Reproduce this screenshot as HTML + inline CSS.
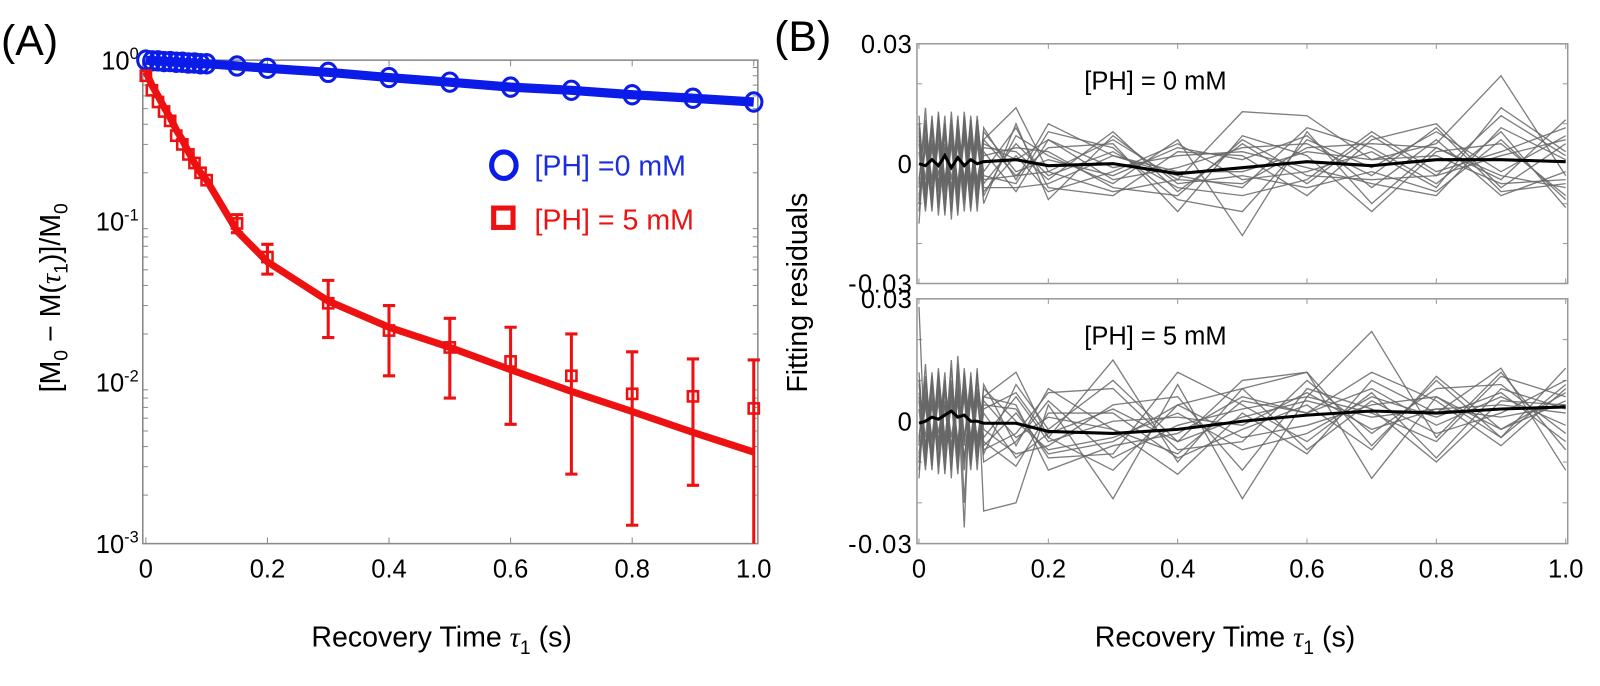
<!DOCTYPE html>
<html><head><meta charset="utf-8"><style>
html,body{margin:0;padding:0;background:#fff;}
svg{display:block;font-family:"Liberation Sans",sans-serif;}
</style></head><body>
<svg id="c" width="1600" height="686" xmlns="http://www.w3.org/2000/svg">
<g transform="translate(1,2) scale(1.02)">
<text x="0" y="52" font-size="42">(A)</text>
<text x="758" y="48" font-size="42">(B)</text>
<g id="ga"></g>
<g id="gb"></g>
</g>
</svg>
<script>
// ---------- Panel A data ----------
const tA = [0,0.01,0.02,0.03,0.04,0.05,0.06,0.07,0.08,0.09,0.1,0.15,0.2,0.3,0.4,0.5,0.6,0.7,0.8,0.9,1.0];
const blueVals = [1.0,0.99,0.99,0.98,0.98,0.97,0.97,0.96,0.96,0.95,0.95,0.92,0.89,0.84,0.78,0.73,0.68,0.65,0.61,0.58,0.55];
const blueFit = [1.0,0.99,0.99,0.98,0.98,0.97,0.97,0.96,0.96,0.95,0.95,0.92,0.89,0.84,0.78,0.73,0.68,0.65,0.61,0.58,0.55];
const redVals = [0.8,0.65,0.55,0.48,0.42,0.34,0.3,0.26,0.23,0.2,0.18,0.097,0.06,0.031,0.021,0.0165,0.0135,0.011,0.0085,0.0082,0.0069];
const redLo = [null,null,null,null,null,null,null,null,null,null,null,0.085,0.047,0.019,0.011,0.008,0.0055,0.0027,0.0013,0.0023,0.0009];
const redHi = [null,null,null,null,null,null,null,null,null,null,null,0.11,0.072,0.043,0.03,0.025,0.022,0.02,0.0155,0.014,0.0138];
const redFit = [0.85,0.7,0.6,0.51,0.44,0.37,0.32,0.27,0.23,0.2,0.18,0.087,0.056,0.032,0.022,0.0165,0.012,0.0088,0.0066,0.0049,0.0037];
const xTicksA = [0,0.2,0.4,0.6,0.8,1.0];
const xTickLabelsA = ["0","0.2","0.4","0.6","0.8","1.0"];
const yExpA = [0,-1,-2,-3];

// ---------- Panel B data (residuals in units of 0.001) ----------
const tB = [0,0.01,0.02,0.03,0.04,0.05,0.06,0.07,0.08,0.09,0.1,0.15,0.2,0.3,0.4,0.5,0.6,0.7,0.8,0.9,1.0];
const res0 = [
 [8,-10,12,-6,10,-9,11,-7,9,-5,6,14,-2,6,-4,13,12,1,5,22,-3],
 [-15,9,-8,13,-6,11,-12,12,-8,9,-3,-5,8,4,-9,-12,6,-1,8,-2,7],
 [10,-7,9,-11,8,-4,7,-9,12,-6,4,3,-4,8,-7,5,-5,7,-3,12,2],
 [-6,14,-10,7,-13,9,-5,10,-11,7,-8,7,2,-5,6,-18,8,-10,4,-4,11],
 [3,-12,6,-5,12,-14,9,-4,7,-12,9,-4,10,2,-3,-6,9,4,-5,8,-11],
 [-10,6,-12,9,-7,8,-10,13,-5,10,-2,9,-6,-8,3,2,-8,6,10,-6,5],
 [7,-4,11,-13,5,-9,12,-6,10,-8,6,-3,4,5,-12,7,2,-12,3,5,-8],
 [-4,10,-5,8,-9,13,-7,6,-12,5,-7,2,-7,-2,5,-4,-2,3,-6,14,3],
 [12,-9,4,-7,10,-6,5,-12,8,-10,3,-7,6,-4,-1,4,5,-3,9,-7,-5],
 [-8,5,-9,11,-4,7,-9,8,-6,12,-5,5,-3,3,-6,-8,-4,8,-2,3,9],
 [5,-11,8,-3,7,-12,6,-9,5,-7,8,-2,1,-3,4,1,7,-6,6,-8,-2],
 [-12,7,-4,10,-10,5,-13,9,-9,8,-10,10,-9,7,-5,-3,-6,-2,-7,6,-9],
 [6,-8,10,-9,4,-11,8,-5,11,-9,2,4,3,-6,-8,6,-3,-4,-3,2,6],
 [-5,11,-7,5,-12,6,-8,11,-4,6,-6,-6,-5,2,-2,-2,3,1,2,-5,-4],
 [9,-6,5,-10,9,-8,10,-10,6,-4,5,1,6,-1,2,3,-1,-5,-8,9,1],
 [-9,4,-11,12,-5,10,-6,7,-10,11,-4,-3,-2,-7,-4,-5,4,5,4,-3,-6]
];
const mean0 = [0,-0.5,1,-0.5,2,-1,1.5,-0.5,1,0,0.5,1,-0.5,0,-2.5,-1,0.5,-0.5,1,1,0.5];
const res1 = [
 [28,-10,12,-6,10,-9,14,-20,9,-5,6,12,-4,15,-10,8,12,-6,10,-4,9],
 [-14,9,-8,13,-6,15,-12,12,-8,13,-22,-20,4,-19,9,-19,6,22,-4,12,-7],
 [10,-7,9,-11,8,-4,7,-26,12,-6,4,3,-9,-8,12,4,-5,7,-9,8,3],
 [-6,14,-10,7,-13,9,-5,10,-11,7,-8,9,-2,10,-5,10,12,-14,6,-4,13],
 [3,-12,6,-5,12,-14,16,-4,7,-12,9,-6,8,-2,-13,2,-8,10,2,13,-12],
 [-10,6,-12,9,-7,8,-10,13,-5,10,-2,-8,-6,4,6,-12,8,3,-10,5,4],
 [7,-4,11,-13,5,-9,12,-6,10,-8,6,4,-12,-6,-3,6,2,12,5,-6,8],
 [-4,10,-5,8,-9,13,-7,6,-12,5,-7,-3,7,8,-7,-5,10,-3,8,9,-3],
 [12,-9,4,-7,10,-6,5,-12,8,-10,3,7,-4,-12,4,8,-7,5,-3,2,10],
 [-8,5,-9,11,-4,7,-9,8,-6,12,-5,-11,2,2,-9,-2,4,-7,11,-2,5],
 [5,-11,8,-3,7,-12,6,-9,5,-7,8,0,-7,-4,2,-7,-3,6,1,7,-5],
 [-12,7,-4,10,-10,5,-13,9,-9,8,-10,-5,5,-9,-1,3,6,2,-5,11,6],
 [6,-8,10,-9,4,-11,8,-5,11,-9,2,-9,-3,3,-5,1,5,1,3,4,2],
 [-5,11,-7,5,-12,6,-8,11,-4,6,-6,2,-8,-5,4,-4,-1,4,6,-2,7],
 [9,-6,5,-10,9,-8,10,-10,6,-4,5,-4,1,-2,-8,5,2,8,-1,6,-1],
 [-9,4,-11,12,-5,10,-6,7,-10,11,-4,6,-5,0,1,-1,7,-2,3,1,4]
];
const mean1 = [-0.5,0,1,0.5,1.5,2.5,1,1.5,0,0,-0.5,-0.5,-2.5,-3,-2,0,1.5,2.5,2,3,3.5];
const xTicksB = [0,0.2,0.4,0.6,0.8,1.0];
const xTickLabelsB = ["0","0.2","0.4","0.6","0.8","1.0"];

const NS = "http://www.w3.org/2000/svg";
function mk(parent, tag, attrs, text) {
  const e = document.createElementNS(NS, tag);
  for (const k in attrs) e.setAttribute(k, attrs[k]);
  if (text !== undefined) e.textContent = text;
  parent.appendChild(e);
  return e;
}

// ---------- Panel A ----------
const ga = document.getElementById('ga');
const A = {l:139, r:742, t:57, b:531, x0:142, x1:738};
const xA = v => A.x0 + v * (A.x1 - A.x0);
const yA = v => A.t + (-Math.log10(v)) * (A.b - A.t) / 3;
{
  const box = mk(ga, 'rect', {x:A.l, y:A.t, width:A.r-A.l, height:A.b-A.t, fill:'none', stroke:'#888', 'stroke-width':1.5});
  
  
  xTicksA.forEach((v, i) => {
    mk(ga, 'line', {x1:xA(v), x2:xA(v), y1:A.b, y2:A.b-6, stroke:'#888'});
    mk(ga, 'line', {x1:xA(v), x2:xA(v), y1:A.t, y2:A.t+6, stroke:'#888'});
    const t = mk(ga, 'text', {x:xA(v), y:A.b+33, 'font-size':25, 'text-anchor':'middle'}, xTickLabelsA[i]);
    
    
  });
  yExpA.forEach(e => {
    const y = yA(Math.pow(10, e));
    const t = mk(ga, 'text', {x:A.l-4, y:y+9, 'font-size':25, 'text-anchor':'end'});
    
    
    mk(t, 'tspan', {}, '10');
    mk(t, 'tspan', {dy:-10, 'font-size':16}, String(e));
    for (let m = 2; m <= 9 && e > -3; m++) {
      const ym = yA(Math.pow(10, e - 1) * m);
      mk(ga, 'line', {x1:A.l, x2:A.l+5, y1:ym, y2:ym, stroke:'#888'});
      mk(ga, 'line', {x1:A.r, x2:A.r-5, y1:ym, y2:ym, stroke:'#888'});
    }
  });
  const bl = mk(ga, 'polyline', {points:tA.map((t,i)=>xA(t)+','+yA(blueFit[i])).join(' '), fill:'none', stroke:'#0b1be8', 'stroke-width':9});
  
  
  const rl = mk(ga, 'polyline', {points:tA.map((t,i)=>xA(t)+','+yA(redFit[i])).join(' '), fill:'none', stroke:'#ee1111', 'stroke-width':7});
  
  
  tA.forEach((t, i) => {
    if (redLo[i] === null) return;
    const x = xA(t);
    const yl = Math.min(yA(Math.max(redLo[i], 0.001)), A.b);
    const yh = yA(redHi[i]);
    const eb = mk(ga, 'path', {d:`M${x},${yl}V${yh}M${x-6},${yh}H${x+6}` + (redLo[i] > 0.001 ? `M${x-6},${yl}H${x+6}` : ''), stroke:'#ee1111', 'stroke-width':3, fill:'none'});
    
    
  });
  tA.forEach((t, i) => {
    const c = mk(ga, 'ellipse', {cx:xA(t), cy:yA(blueVals[i]), rx:8, ry:9, fill:'none', stroke:'#0b1be8', 'stroke-width':3});
    
    
  });
  tA.forEach((t, i) => {
    const s = mk(ga, 'rect', {x:xA(t)-5, y:yA(redVals[i])-5, width:10, height:10, fill:'none', stroke:'#ee1111', 'stroke-width':2.5});
    
    
  });
  const lg = mk(ga, 'g', {});
  
  
  mk(lg, 'ellipse', {cx:493, cy:160, rx:12, ry:13, fill:'none', stroke:'#0b1be8', 'stroke-width':5});
  mk(lg, 'text', {x:523, y:170, 'font-size':28, fill:'#1a2ee0'}, '[PH] =0 mM');
  mk(lg, 'rect', {x:483, y:202, width:19, height:19, fill:'none', stroke:'#ee1111', 'stroke-width':5});
  mk(lg, 'text', {x:523, y:223, 'font-size':28, fill:'#ee1111'}, '[PH] = 5 mM');
  const xl = mk(ga, 'text', {x:432, y:632, 'font-size':28, 'text-anchor':'middle'});
  
  
  xl.innerHTML = 'Recovery Time <tspan font-family="Liberation Serif" font-style="italic">τ</tspan><tspan font-size="19" dy="7">1</tspan><tspan dy="-7"> (s)</tspan>';
  const yl = mk(ga, 'text', {x:0, y:0, 'font-size':28, 'text-anchor':'middle', transform:'translate(58,290) rotate(-90)'});
  
  
  yl.innerHTML = '[M<tspan font-size="19" dy="7">0</tspan><tspan dy="-7"> − M(</tspan><tspan font-family="Liberation Serif" font-style="italic">τ</tspan><tspan font-size="19" dy="7">1</tspan><tspan dy="-7">)]/M</tspan><tspan font-size="19" dy="7">0</tspan>';
}

// ---------- Panel B ----------
const gb = document.getElementById('gb');
const B = {l:898, r:1536, x0:900, x1:1534};
const xB = v => B.x0 + v * (B.x1 - B.x0);
function panelB(top, bot, series, mean, label, name) {
  const g = mk(gb, 'g', {});
  
  
  const yB = v => (top + bot) / 2 - v / 30 * (bot - top) / 2;
  mk(g, 'rect', {x:B.l, y:top, width:B.r-B.l, height:bot-top, fill:'none', stroke:'#999', 'stroke-width':1.5});
  xTicksB.forEach(v => {
    mk(g, 'line', {x1:xB(v), x2:xB(v), y1:bot, y2:bot-5, stroke:'#999'});
    mk(g, 'line', {x1:xB(v), x2:xB(v), y1:top, y2:top+5, stroke:'#999'});
  });
  [-20,-10,10,20].forEach(v => {
    mk(g, 'line', {x1:B.l, x2:B.l+5, y1:yB(v), y2:yB(v), stroke:'#999'});
    mk(g, 'line', {x1:B.r, x2:B.r-5, y1:yB(v), y2:yB(v), stroke:'#999'});
  });
  [[30,'0.03'],[0,'0'],[-30,'-0.03']].forEach(([v, s]) => {
    const t = mk(g, 'text', {x:B.l-5, y:yB(v)+9, 'font-size':25, 'text-anchor':'end', textLength: s.length*12.5}, s);
    
    
  });
  series.forEach(s => {
    const p = mk(g, 'polyline', {points:tB.map((t,i)=>xB(t)+','+yB(s[i])).join(' '), fill:'none', stroke:'#666', 'stroke-width':1.3, opacity:0.85});
    
    
  });
  const m = mk(g, 'polyline', {points:tB.map((t,i)=>xB(t)+','+yB(mean[i])).join(' '), fill:'none', stroke:'#000', 'stroke-width':3});
  
  
  const lt = mk(g, 'text', {x:1062, y:top+45, 'font-size':25}, label);
  
  
}
panelB(41, 276, res0, mean0, '[PH] = 0 mM', 'residuals-0mm');
panelB(291, 531, res1, mean1, '[PH] = 5 mM', 'residuals-5mm');
xTicksB.forEach((v, i) => {
  const t = mk(gb, 'text', {x:xB(v), y:564, 'font-size':25, 'text-anchor':'middle'}, xTickLabelsB[i]);
  
  
});
{
  const xl = mk(gb, 'text', {x:1200, y:632, 'font-size':28, 'text-anchor':'middle'});
  
  
  xl.innerHTML = 'Recovery Time <tspan font-family="Liberation Serif" font-style="italic">τ</tspan><tspan font-size="19" dy="7">1</tspan><tspan dy="-7"> (s)</tspan>';
  const yl = mk(gb, 'text', {x:0, y:0, 'font-size':28, 'text-anchor':'middle', transform:'translate(790,285) rotate(-90)'}, 'Fitting residuals');
  
  
}
</script>
</body></html>
